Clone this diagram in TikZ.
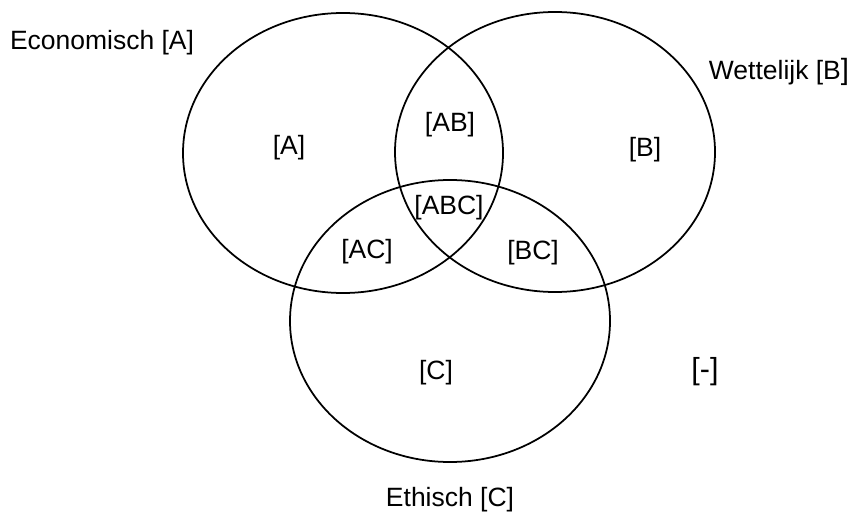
\documentclass[tikz,border=0pt]{standalone}
\usepackage{fontspec}
\setmainfont{Liberation Sans}
\begin{document}
\begin{tikzpicture}[x=0.03cm, y=-0.03cm,
  set/.style={draw=black, line width=1.5pt},
  lbl/.style={inner sep=0pt, font=\fontsize{22.6}{26}\selectfont}]
\useasboundingbox (0,0) rectangle (853,513);
% the three sets
\draw[set] (343,153) ellipse [x radius=4.8cm, y radius=4.2cm];
\draw[set] (555,152) ellipse [x radius=4.8cm, y radius=4.2cm];
\draw[set] (450,321) ellipse [x radius=4.8cm, y radius=4.23cm];
% set titles
\node[lbl] (tA) at (102,43) {Economisch [A]};
\node[lbl] (tB) at (779,72) {Wettelijk [B{\fontsize{25}{26}\selectfont]}};
\node[lbl] (tC) at (450,500) {Ethisch [C]};
% region labels
\node[lbl] (rA) at (289,148) {[A]};
\node[lbl] (rB) at (645,150) {[B]};
\node[lbl] (rC) at (436,373) {[C]};
\node[lbl] (rAB) at (450,125) {[AB]};
\node[lbl] (rABC) at (449,208) {[ABC]};
\node[lbl] (rAC) at (367,252) {[AC]};
\node[lbl] (rBC) at (533,253) {[BC]};
\node[lbl, font=\fontsize{26}{28}\selectfont] (rNone) at (705,372) {[-]};
\end{tikzpicture}
\end{document}
